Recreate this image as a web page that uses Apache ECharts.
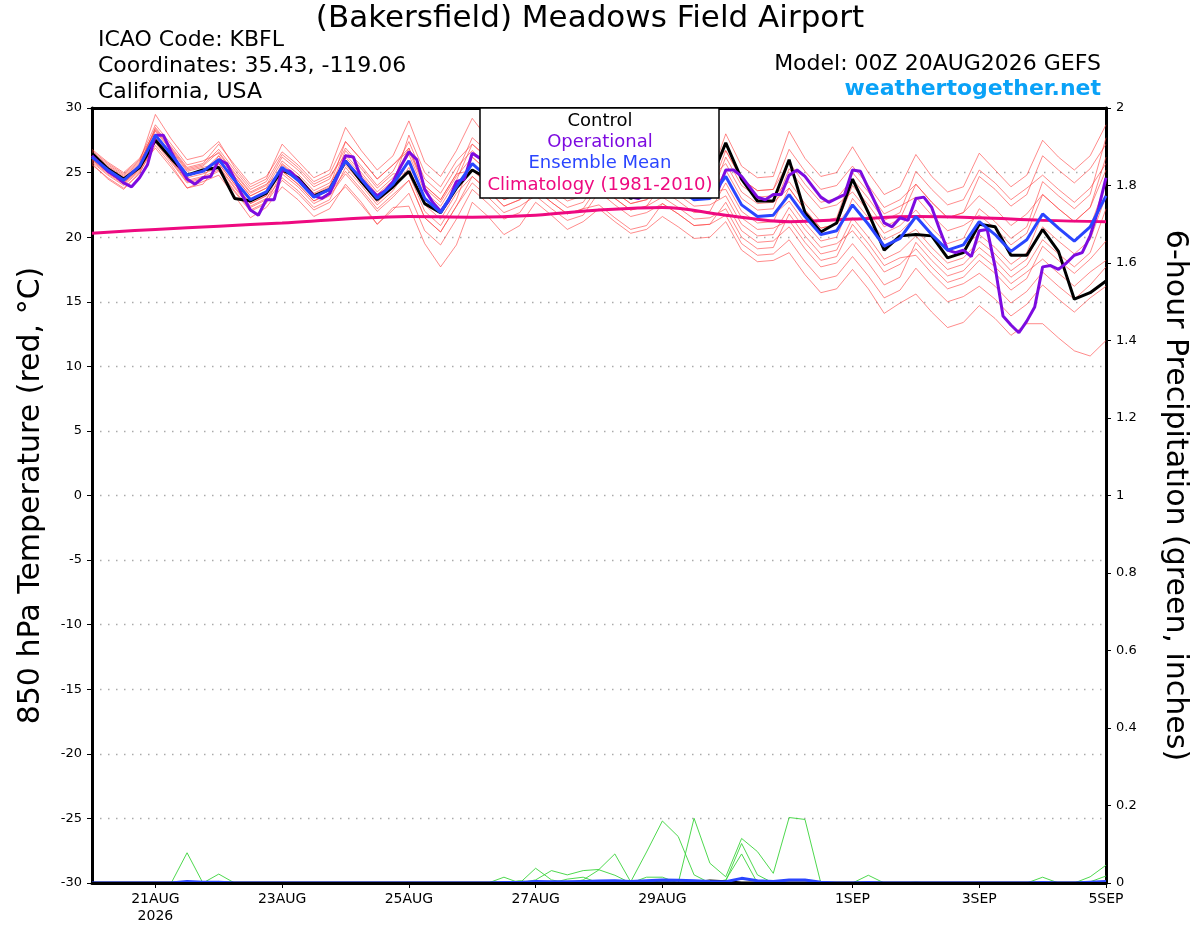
<!DOCTYPE html>
<html>
<head>
<meta charset="utf-8">
<title>(Bakersfield) Meadows Field Airport - GEFS</title>
<script src="https://cdn.jsdelivr.net/npm/echarts@6/dist/echarts.min.js"></script>
<style>
html, body { margin: 0; padding: 0; background: #fff; }
#chart { width: 1200px; height: 927px; }
</style>
</head>
<body>
<div id="chart"></div>
<script>
// hours after 00Z 20AUG2026; ensemble is 6-hourly, operational 3-hourly, climatology daily
var stepHours = 6;
var opStepHours = 3;
var climoStepHours = 24;

var dateTickHours = [24, 72, 120, 168, 216, 288, 336, 384];
var dateTickLabels = ['21AUG\n2026', '23AUG', '25AUG', '27AUG', '29AUG', '1SEP', '3SEP', '5SEP'];

/* 850 hPa temperature (C) */
var controlTemp = [
  26.5, 25.3, 24.5, 25.4,  27.5, 26.1, 24.8, 25.2,  25.4, 23.0, 22.8, 23.4,  25.2, 24.6, 23.2, 23.7,
  25.9, 24.3, 22.9, 23.9,  25.1, 22.6, 21.9, 23.8,  25.2, 24.5, 23.3, 24.0,  25.5, 24.3, 23.2, 23.8,
  25.3, 24.2, 23.0, 23.5,  25.0, 24.0, 23.2, 24.3,  27.3, 24.5, 22.8, 22.8,  26.0, 21.9, 20.4, 21.1,
  24.5, 21.9, 19.0, 20.1,  20.2, 20.1, 18.4, 18.8,  21.0, 20.8, 18.6, 18.6,  20.6, 18.9, 15.2, 15.7,
  16.6
];

var meanTemp = [
  26.2, 25.2, 24.4, 25.5,  27.9, 26.4, 24.8, 25.1,  26.0, 24.4, 22.9, 23.5,  25.4, 24.4, 23.1, 23.7,
  25.9, 24.5, 23.0, 24.1,  25.9, 23.0, 21.9, 23.9,  25.7, 24.6, 23.4, 23.9,  25.2, 24.2, 23.3, 23.7,
  25.0, 24.0, 23.1, 23.4,  24.6, 23.8, 22.9, 23.0,  24.7, 22.5, 21.6, 21.7,  23.3, 21.6, 20.2, 20.5,
  22.5, 21.0, 19.3, 19.9,  21.6, 20.2, 19.0, 19.4,  21.2, 20.2, 18.9, 19.8,  21.8, 20.7, 19.7, 20.8,
  23.2
];

var operationalTemp = [
  26.3, 25.7, 25.1, 24.7, 24.2, 23.9, 24.6, 25.6,
  27.9, 27.9, 26.6, 25.5, 24.5, 24.1, 24.6, 24.7,
  26.0, 25.7, 24.5, 23.2, 22.1, 21.7, 22.9, 22.9,
  25.2, 25.1, 24.5, 23.8, 23.2, 23.0, 23.4, 24.7,
  26.3, 26.2, 24.5, 23.8, 23.2, 23.6, 24.3, 25.5,
  26.6, 26.0, 23.7, 22.7, 22.0, 22.8, 24.3, 24.5,
  26.5, 26.1, 24.8, 24.0, 23.5, 23.4, 24.0, 25.0,
  25.8, 25.6, 24.6, 23.8, 23.3, 23.2, 23.8, 24.8,
  25.5, 25.3, 24.3, 23.6, 23.1, 23.0, 23.4, 24.2,
  25.1, 25.0, 24.2, 23.6, 23.2, 23.1, 23.3, 23.6,
  25.2, 25.2, 24.7, 23.9, 23.1, 22.9, 23.3, 23.3,
  24.8, 25.2, 24.7, 23.9, 23.1, 22.7, 23.0, 23.3,
  25.2, 25.1, 23.8, 22.5, 21.1, 20.8, 21.5, 21.3,
  23.0, 23.1, 22.3, 20.6, 19.0, 18.8, 19.0, 18.5,
  20.5, 20.6, 17.7, 13.9, 13.2, 12.6, 13.5, 14.6,
  17.7, 17.8, 17.5, 18.0, 18.6, 18.8, 20.1, 22.1,
  24.6
];

var climatologyTemp = [20.3, 20.6, 20.85, 21.1, 21.4, 21.6, 21.55, 21.7, 22.1, 22.3, 21.7, 21.2, 21.4, 21.6, 21.5, 21.3, 21.2];

var member01 = [26.5,25.5,24.7,25.8, 29.5,27.6,26.0,26.3, 27.4,25.4,23.9,24.5, 27.2,25.9,24.6,25.2, 28.5,26.7,25.2,26.3, 29.0,25.8,24.7,26.7, 29.2,27.6,26.4,26.9, 28.0,26.7,25.8,26.2, 27.3,26.0,25.1,25.4, 26.4,25.3,24.4,24.5, 28.0,25.5,24.6,24.7, 28.2,26.1,24.7,25.0, 27.0,25.0,23.3,23.9, 26.4,24.7,23.5,23.9, 26.5,25.2,23.9,24.8, 27.5,26.2,25.2,26.3, 28.7];
var member02 = [25.7,24.5,23.7,25.0, 27.1,25.6,23.8,24.3, 24.8,23.2,21.5,22.3, 23.9,22.9,21.6,22.2, 24.1,22.7,21.0,22.3, 22.4,19.5,17.7,19.4, 22.7,21.6,20.2,20.9, 22.7,21.7,20.6,21.2, 22.2,21.2,20.3,20.6, 21.6,20.8,19.9,20.0, 21.2,19.0,18.1,18.2, 18.8,17.1,15.7,16.0, 17.5,16.0,14.1,14.9, 15.6,14.2,13.0,13.4, 14.7,13.7,12.4,13.3, 13.3,12.2,11.2,10.8, 12.0];
var member03 = [26.7,25.7,24.9,26.0, 28.7,27.2,25.6,25.9, 26.5,24.9,23.4,24.0, 26.2,25.2,23.9,24.5, 26.9,25.5,24.0,25.1, 27.4,24.5,23.4,25.4, 26.7,25.6,24.4,24.9, 25.7,24.7,23.8,24.2, 25.0,24.0,23.1,23.4, 25.1,24.3,23.4,23.5, 26.7,24.5,23.6,23.7, 26.8,25.1,23.7,24.0, 25.5,24.0,22.3,22.9, 24.1,22.7,21.5,21.9, 24.7,23.7,22.4,23.3, 26.3,25.2,24.2,25.3, 27.2];
var member04 = [25.9,24.9,24.1,25.2, 27.4,25.9,24.3,24.6, 26.3,24.7,23.2,23.8, 24.9,23.9,22.6,23.2, 24.9,23.5,22.0,23.1, 24.4,21.5,20.4,22.4, 24.2,23.1,21.9,22.4, 23.2,22.2,21.3,21.7, 23.5,22.5,21.6,21.9, 22.6,21.8,20.9,21.0, 21.7,19.5,18.6,18.7, 19.8,18.1,16.7,17.0, 18.5,17.0,15.3,15.9, 17.6,16.2,15.0,15.4, 16.2,15.2,13.9,14.8, 16.3,15.2,14.2,15.3, 16.2];
var member05 = [26.4,25.4,24.6,25.7, 28.4,26.9,25.3,25.6, 26.8,25.2,23.7,24.3, 26.4,25.4,24.1,24.7, 26.4,25.0,23.5,24.6, 26.4,23.5,22.4,24.4, 27.2,26.1,24.9,25.4, 26.7,25.7,24.8,25.2, 26.0,25.0,24.1,24.4, 26.1,25.3,24.4,24.5, 25.7,23.5,22.6,22.7, 23.8,22.1,20.7,21.0, 24.0,22.5,20.8,21.4, 24.1,22.7,21.5,21.9, 23.2,22.2,20.9,21.8, 23.3,22.2,21.2,22.3, 26.2];
var member06 = [26.0,25.0,24.2,25.3, 27.9,26.4,24.8,25.1, 25.5,23.9,22.4,23.0, 24.6,23.6,22.3,22.9, 25.4,24.0,22.5,23.6, 25.4,22.5,21.4,23.4, 24.7,23.6,22.4,22.9, 24.7,23.7,22.8,23.2, 24.0,23.0,22.1,22.4, 24.1,23.3,22.4,22.5, 23.2,21.0,20.1,20.2, 22.3,20.6,19.2,19.5, 20.5,19.0,17.3,17.9, 19.1,17.7,16.5,16.9, 18.2,17.2,15.9,16.8, 19.3,18.2,17.2,18.3, 19.7];
var member07 = [26.8,25.8,25.0,26.1, 28.2,26.7,25.1,25.4, 25.7,24.1,22.6,23.2, 25.6,24.6,23.3,23.9, 27.4,26.0,24.5,25.6, 26.7,23.8,22.7,24.7, 26.2,25.1,23.9,24.4, 26.2,25.2,24.3,24.7, 26.5,25.5,24.6,24.9, 25.6,24.8,23.9,24.0, 24.7,22.5,21.6,21.7, 22.8,21.1,19.7,20.0, 23.0,21.5,19.8,20.4, 21.6,20.2,19.0,19.4, 20.2,19.2,17.9,18.8, 21.8,20.7,19.7,20.8, 24.2];
var member08 = [25.6,24.6,23.8,24.9, 27.5,26.0,24.4,24.7, 25.2,23.6,22.1,22.7, 24.4,23.4,22.1,22.7, 23.9,22.5,21.0,22.1, 23.4,20.5,19.4,21.4, 23.7,22.6,21.4,21.9, 23.7,22.7,21.8,22.2, 22.5,21.5,20.6,20.9, 22.6,21.8,20.9,21.0, 22.7,20.5,19.6,19.7, 20.8,19.1,17.7,18.0, 19.5,18.0,16.3,16.9, 19.6,18.2,17.0,17.4, 18.7,17.7,16.4,17.3, 18.3,17.2,16.2,17.3, 18.2];
var member09 = [26.3,25.3,24.5,25.6, 28.5,27.0,25.4,25.7, 27.2,25.6,24.1,24.7, 26.6,25.6,24.3,24.9, 27.4,26.0,24.5,25.6, 26.9,24.0,22.9,24.9, 27.7,26.6,25.4,25.9, 27.4,26.4,25.5,25.9, 27.5,26.5,25.6,25.9, 27.1,26.3,25.4,25.5, 26.7,24.5,23.6,23.7, 25.8,24.1,22.7,23.0, 24.5,23.0,21.3,21.9, 25.1,23.7,22.5,22.9, 25.2,24.2,22.9,23.8, 24.8,23.7,22.7,23.8, 25.7];
var member10 = [26.1,25.1,24.3,25.4, 26.9,25.4,23.8,24.1, 25.7,24.1,22.6,23.2, 25.7,24.7,23.4,24.0, 25.6,24.2,22.7,23.8, 25.9,23.0,21.9,23.9, 25.2,24.1,22.9,23.4, 24.2,23.2,22.3,22.7, 24.5,23.5,22.6,22.9, 23.6,22.8,21.9,22.0, 24.2,22.0,21.1,21.2, 23.8,22.1,20.7,21.0, 22.5,21.0,19.3,19.9, 20.6,19.2,18.0,18.4, 19.7,18.7,17.4,18.3, 20.8,19.7,18.7,19.8, 23.2];
var member11 = [26.6,25.6,24.8,25.9, 27.9,26.4,24.8,25.1, 26.3,24.7,23.2,23.8, 25.9,24.9,23.6,24.2, 25.9,24.5,23.0,24.1, 27.9,25.0,23.9,25.9, 27.2,26.1,24.9,25.4, 25.7,24.7,23.8,24.2, 26.0,25.0,24.1,24.4, 24.6,23.8,22.9,23.0, 26.2,24.0,23.1,23.2, 24.3,22.6,21.2,21.5, 25.0,23.5,21.8,22.4, 23.1,21.7,20.5,20.9, 21.7,20.7,19.4,20.3, 23.3,22.2,21.2,22.3, 25.2];
var member12 = [25.8,24.8,24.0,25.1, 27.7,26.2,24.6,24.9, 25.4,23.8,22.3,22.9, 25.4,24.4,23.1,23.7, 26.7,25.3,23.8,24.9, 24.9,22.0,20.9,22.9, 26.2,25.1,23.9,24.4, 25.2,24.2,23.3,23.7, 24.5,23.5,22.6,22.9, 25.1,24.3,23.4,23.5, 23.7,21.5,20.6,20.7, 21.3,19.6,18.2,18.5, 21.0,19.5,17.8,18.4, 18.6,17.2,16.0,16.4, 17.2,16.2,14.9,15.8, 17.3,16.2,15.2,16.3, 17.7];
var member13 = [26.2,25.2,24.4,25.5, 28.3,26.8,25.2,25.5, 26.6,25.0,23.5,24.1, 25.1,24.1,22.8,23.4, 26.2,24.8,23.3,24.4, 26.9,24.0,22.9,24.9, 25.2,24.1,22.9,23.4, 25.7,24.7,23.8,24.2, 25.5,24.5,23.6,23.9, 24.6,23.8,22.9,23.0, 25.2,23.0,22.1,22.2, 25.3,23.6,22.2,22.5, 23.5,22.0,20.3,20.9, 22.1,20.7,19.5,19.9, 22.2,21.2,19.9,20.8, 24.3,23.2,22.2,23.3, 27.7];
var member14 = [26.0,25.0,24.2,25.3, 27.3,25.8,24.2,24.5, 25.1,23.5,22.0,22.6, 25.1,24.1,22.8,23.4, 25.1,23.7,22.2,23.3, 24.4,21.5,20.4,22.4, 24.7,23.6,22.4,22.9, 23.7,22.7,21.8,22.2, 24.0,23.0,22.1,22.4, 23.1,22.3,21.4,21.5, 22.2,20.0,19.1,19.2, 21.8,20.1,18.7,19.0, 21.5,20.0,18.3,18.9, 20.1,18.7,17.5,17.9, 19.2,18.2,16.9,17.8, 19.8,18.7,17.7,18.8, 22.2];

var memberTemps = [member01, member02, member03, member04, member05, member06, member07,
                   member08, member09, member10, member11, member12, member13, member14];

/* 6-hour precipitation (inches) */
var precip01 = [0,0,0,0, 0,0,0.078,0, 0,0,0,0, 0,0,0,0, 0,0,0,0, 0,0,0,0, 0,0,0.015,0, 0.038,0.008,0,0, 0,0,0,0, 0,0,0,0, 0,0,0,0, 0,0,0,0, 0,0,0,0, 0,0,0,0, 0,0,0,0, 0,0,0,0, 0];
var precip02 = [0,0,0,0, 0,0,0,0, 0.023,0,0,0, 0,0,0,0, 0,0,0,0, 0,0,0,0, 0,0,0,0, 0.008,0.032,0.021,0.032, 0.035,0.075,0.003,0.08, 0.16,0.12,0.021,0, 0,0,0,0, 0,0,0,0, 0,0,0,0, 0,0,0,0, 0,0,0,0, 0,0,0,0, 0];
var precip03 = [0,0,0,0, 0,0,0,0, 0,0,0,0, 0,0,0,0, 0,0,0,0, 0,0,0,0, 0,0,0,0, 0,0,0.01,0.015, 0,0,0,0, 0,0,0.167,0.051, 0.016,0.115,0.081,0.025, 0.169,0.164,0,0, 0,0,0,0, 0,0,0,0, 0,0,0,0, 0,0,0,0, 0];
var precip04 = [0,0,0,0, 0,0,0,0, 0,0,0,0, 0,0,0,0, 0,0,0,0, 0,0,0,0, 0,0,0,0, 0,0,0,0.008, 0.034,0.02,0,0, 0,0,0,0, 0.005,0.102,0.021,0, 0,0,0,0, 0,0,0,0, 0,0,0,0, 0,0,0,0, 0,0,0,0, 0];
var precip05 = [0,0,0,0, 0,0,0,0, 0.004,0,0,0, 0,0,0,0, 0,0,0,0, 0,0,0,0, 0,0,0,0, 0,0,0,0, 0,0,0,0.015, 0.015,0,0,0, 0.008,0.075,0,0, 0,0,0,0, 0,0.02,0,0, 0,0,0,0, 0,0,0,0, 0.015,0,0,0.016, 0.046];
var precip06 = [0,0,0,0, 0,0,0,0, 0,0,0,0, 0,0,0,0, 0,0,0,0, 0,0,0,0, 0,0,0,0.006, 0,0,0,0, 0.005,0,0,0, 0.006,0,0,0, 0,0,0,0, 0,0,0,0, 0,0,0,0, 0.002,0,0,0, 0,0,0,0, 0,0,0,0.003, 0.018];
var memberPrecips = [precip01, precip02, precip03, precip04, precip05, precip06];

var meanPrecip = [0,0,0,0, 0,0,0.004,0.002, 0.002,0,0,0, 0,0,0,0, 0,0,0,0, 0,0,0,0, 0,0,0.001,0.001, 0.004,0.003,0.003,0.004, 0.005,0.006,0.004,0.006, 0.008,0.007,0.006,0.004, 0.003,0.012,0.006,0.004, 0.008,0.008,0.002,0, 0,0.001,0,0, 0,0,0,0, 0,0,0,0, 0.001,0,0,0.002, 0.004];
var controlPrecip = [0,0,0,0, 0,0,0,0, 0,0,0,0, 0,0,0,0, 0,0,0,0, 0,0,0,0, 0,0,0,0, 0,0,0,0, 0,0,0,0, 0,0,0,0.005, 0.003,0,0,0, 0,0,0,0, 0,0,0,0, 0,0,0,0, 0,0,0,0, 0,0,0,0, 0];

var FONT = 'DejaVu Sans';

function pairs(values, step) {
  return values.map(function (v, i) { return [i * step, v]; });
}

function lineSeries(values, step, axis, color, width, extra) {
  var s = {
    type: 'line',
    yAxisIndex: axis,
    data: pairs(values, step),
    symbol: 'none',
    silent: true,
    animation: false,
    lineStyle: { color: color, width: width },
    itemStyle: { color: color }
  };
  if (extra) { for (var k in extra) s[k] = extra[k]; }
  return s;
}

var series = [];
memberTemps.forEach(function (m) {
  series.push(lineSeries(m, stepHours, 0, 'rgba(255,60,60,0.75)', 0.8));
});
memberPrecips.forEach(function (p) {
  series.push(lineSeries(p, stepHours, 1, '#3ad43a', 0.9));
});
series.push(lineSeries(climatologyTemp, climoStepHours, 0, '#ee0a80', 3, { smooth: 0.4 }));
series.push(lineSeries(controlTemp, stepHours, 0, '#000000', 3));
series.push(lineSeries(operationalTemp, opStepHours, 0, '#7d0be0', 3));
series.push(lineSeries(meanTemp, stepHours, 0, '#2a45ff', 3));
series.push(lineSeries(controlPrecip, stepHours, 1, '#000000', 3));
series.push(lineSeries(meanPrecip, stepHours, 1, '#2a45ff', 3));

var chart = echarts.init(document.getElementById('chart'));

chart.setOption({
  backgroundColor: '#ffffff',
  animation: false,
  textStyle: { fontFamily: FONT },
  grid: { left: 92, right: 94, top: 108, bottom: 44, show: false },
  xAxis: [
    {
      type: 'value',
      min: 0, max: 384, interval: 24,
      z: 10,
      axisLine: { show: true, onZero: false, lineStyle: { color: '#000', width: 3 } },
      axisTick: { show: true, customValues: dateTickHours, length: 5, lineStyle: { color: '#000', width: 1 } },
      axisLabel: {
        customValues: dateTickHours,
        showMaxLabel: true, showMinLabel: true,
        color: '#000', fontSize: 14, fontFamily: FONT, lineHeight: 17, margin: 8,
        formatter: function (v) {
          var i = dateTickHours.indexOf(v);
          return i >= 0 ? dateTickLabels[i] : '';
        }
      },
      splitLine: { show: false }
    },
    {
      // top frame line
      type: 'value', position: 'top',
      min: 0, max: 384,
      z: 10,
      axisLine: { show: true, onZero: false, lineStyle: { color: '#000', width: 3 } },
      axisTick: { show: false },
      axisLabel: { show: false },
      splitLine: { show: false }
    }
  ],
  yAxis: [
    {
      type: 'value', position: 'left',
      min: -30, max: 30, interval: 5,
      name: '850 hPa Temperature (red, \u00B0C)',
      nameLocation: 'middle', nameGap: 46,
      nameTextStyle: { color: '#000', fontSize: 30, fontFamily: FONT },
      axisLine: { show: true, onZero: false, lineStyle: { color: '#000', width: 3 } },
      axisTick: { show: true, length: 5, lineStyle: { color: '#000', width: 1 } },
      axisLabel: { color: '#000', fontSize: 13, fontFamily: FONT, margin: 10 },
      splitLine: { show: true, lineStyle: { color: '#aaaaaa', width: 1.4, type: [1.5, 6.5] } }
    },
    {
      type: 'value', position: 'right',
      min: 0, max: 2, interval: 0.2,
      name: '6-hour Precipitation (green, inches)',
      nameLocation: 'middle', nameGap: 54, nameRotate: -90,
      nameTextStyle: { color: '#000', fontSize: 30, fontFamily: FONT },
      axisLine: { show: true, onZero: false, lineStyle: { color: '#000', width: 3 } },
      axisTick: { show: true, length: 5, lineStyle: { color: '#000', width: 1 } },
      axisLabel: { color: '#000', fontSize: 13, fontFamily: FONT, margin: 10 },
      splitLine: { show: false }
    }
  ],
  series: series,
  graphic: [
    { type: 'text', z: 100, style: { text: '(Bakersfield) Meadows Field Airport', x: 590, y: 19, textAlign: 'center', textVerticalAlign: 'middle', font: '31px "DejaVu Sans"', fill: '#000' } },
    { type: 'text', z: 100, style: { text: 'ICAO Code: KBFL', x: 98, y: 40, textAlign: 'left', textVerticalAlign: 'middle', font: '22px "DejaVu Sans"', fill: '#000' } },
    { type: 'text', z: 100, style: { text: 'Coordinates: 35.43, -119.06', x: 98, y: 66, textAlign: 'left', textVerticalAlign: 'middle', font: '22px "DejaVu Sans"', fill: '#000' } },
    { type: 'text', z: 100, style: { text: 'California, USA', x: 98, y: 92, textAlign: 'left', textVerticalAlign: 'middle', font: '22px "DejaVu Sans"', fill: '#000' } },
    { type: 'text', z: 100, style: { text: 'Model: 00Z 20AUG2026 GEFS', x: 1101, y: 64, textAlign: 'right', textVerticalAlign: 'middle', font: '22px "DejaVu Sans"', fill: '#000' } },
    { type: 'text', z: 100, style: { text: 'weathertogether.net', x: 1101, y: 89, textAlign: 'right', textVerticalAlign: 'middle', font: 'bold 22px "DejaVu Sans"', fill: '#0aa2f7' } },
    // legend box
    { type: 'rect', z: 100, shape: { x: 480, y: 108, width: 239, height: 90 }, style: { fill: '#fff', stroke: '#000', lineWidth: 1.5 } },
    { type: 'text', z: 101, style: { text: 'Control', x: 600, y: 121, textAlign: 'center', textVerticalAlign: 'middle', font: '18px "DejaVu Sans"', fill: '#000' } },
    { type: 'text', z: 101, style: { text: 'Operational', x: 600, y: 142, textAlign: 'center', textVerticalAlign: 'middle', font: '18px "DejaVu Sans"', fill: '#7d0be0' } },
    { type: 'text', z: 101, style: { text: 'Ensemble Mean', x: 600, y: 163, textAlign: 'center', textVerticalAlign: 'middle', font: '18px "DejaVu Sans"', fill: '#2a45ff' } },
    { type: 'text', z: 101, style: { text: 'Climatology (1981-2010)', x: 600, y: 185, textAlign: 'center', textVerticalAlign: 'middle', font: '18px "DejaVu Sans"', fill: '#ee0a80' } }
  ]
});
</script>
</body>
</html>
